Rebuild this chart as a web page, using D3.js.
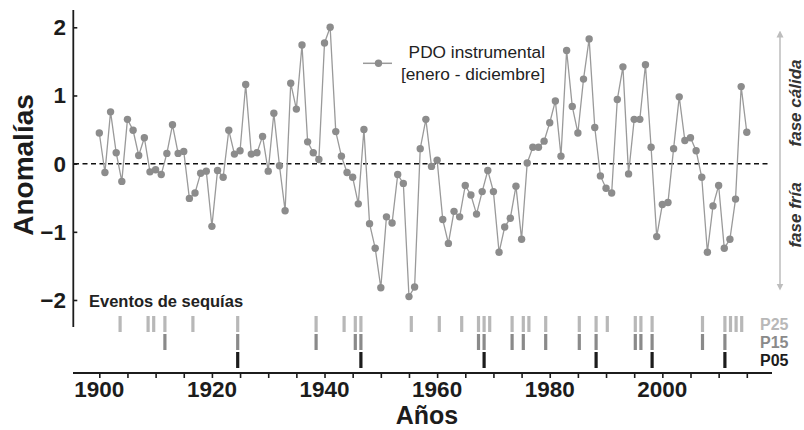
<!DOCTYPE html>
<html><head><meta charset="utf-8">
<script src="https://cdn.jsdelivr.net/npm/d3@7"></script>
<style>body{margin:0;background:#fff}svg{display:block;font-family:"Liberation Sans",Arial,sans-serif}</style>
</head><body><svg id="c" width="804" height="430"></svg>
<script>
const startYear = 1900;
const pdoValues = [
 0.45,-0.13,0.76,0.16,-0.26,0.65,0.49,0.12,0.38,-0.12,
 -0.09,-0.16,0.15,0.57,0.15,0.18,-0.51,-0.43,-0.14,-0.11,
 -0.92,-0.10,-0.20,0.49,0.14,0.19,1.16,0.14,0.16,0.40,
 -0.11,0.74,-0.03,-0.69,1.18,0.80,1.74,0.32,0.16,0.06,
 1.77,2.00,0.47,0.11,-0.13,-0.20,-0.59,0.50,-0.88,-1.24,
 -1.82,-0.78,-0.87,-0.16,-0.29,-1.95,-1.81,0.22,0.65,-0.04,
 0.05,-0.82,-1.17,-0.70,-0.78,-0.32,-0.46,-0.74,-0.41,-0.10,
 -0.41,-1.30,-0.93,-0.80,-0.33,-1.11,0.01,0.24,0.24,0.33,
 0.60,0.92,0.11,1.66,0.84,0.45,1.24,1.83,0.53,-0.18,
 -0.36,-0.43,0.94,1.42,-0.15,0.65,0.65,1.45,0.24,-1.07,
 -0.60,-0.57,0.22,0.98,0.34,0.38,0.19,-0.20,-1.30,-0.62,
 -0.32,-1.24,-1.11,-0.52,1.13,0.46
];
const years = pdoValues.map((v,i)=>startYear+i);
const droughtP25 = [1903,1908,1909,1911,1916,1924,1938,1943,1945,1946,1955,1960,1964,1967,1968,1969,1973,1975,1976,1979,1985,1988,1990,1995,1996,1998,2007,2011,2012,2013,2014];
const droughtP15 = [1911,1924,1938,1945,1946,1967,1968,1973,1975,1979,1985,1988,1995,1996,1998,2007,2011];
const droughtP05 = [1924,1946,1968,1988,1998,2011];
const rowNames = ["P25","P15","P05"];
const rowColors = ["#b8b8b8","#8a8a8a","#1c1c1c"];
const xTickLabels = [1900,1920,1940,1960,1980,2000];
const yTickValues = [-2,-1,0,1,2];

const svg = d3.select("#c");
const x = d3.scaleLinear().domain([1900,2015]).range([99.3,746.8]);
const xd = d3.scaleLinear().domain([1900,2015]).range([103.3,747.3]);
const y = d3.scaleLinear().domain([-2,2]).range([300,27.3]);
const ink = "#1c1c1c";

// zero dashed line
svg.append("line").attr("x1",74).attr("x2",768).attr("y1",y(0)).attr("y2",y(0))
  .attr("stroke","#111").attr("stroke-width",1.5).attr("stroke-dasharray","5,3.5");

// y axis
const yAxis = svg.append("g").attr("transform","translate(73.3,0)")
  .call(d3.axisRight(y).tickValues(yTickValues).tickSize(4).tickFormat(""));
yAxis.select(".domain").remove();
yAxis.selectAll(".tick line").attr("stroke",ink).attr("stroke-width",1.6);
svg.append("line").attr("x1",73.3).attr("x2",73.3).attr("y1",10).attr("y2",327)
  .attr("stroke",ink).attr("stroke-width",1.8);
svg.append("g").selectAll("text").data(yTickValues).join("text")
  .attr("x",66).attr("y",d=>y(d)+8).attr("text-anchor","end")
  .attr("font-size",22.5).attr("font-weight","bold").attr("fill",ink)
  .text(d=>d<0?"\u2212"+Math.abs(d):d);
svg.append("text").attr("transform","translate(33,165) rotate(-90)")
  .attr("text-anchor","middle").attr("font-size",28).attr("font-weight","bold").attr("fill",ink)
  .text("Anomalías");

// x axis
const xAxis = svg.append("g").attr("transform","translate(0,373)")
  .call(d3.axisBottom(x).tickValues(d3.range(1900,2016,5)).tickSize(5).tickFormat(""));
xAxis.select(".domain").remove();
xAxis.selectAll(".tick line").attr("stroke",ink).attr("stroke-width",1.6);
svg.append("line").attr("x1",73).attr("x2",772).attr("y1",373).attr("y2",373)
  .attr("stroke",ink).attr("stroke-width",1.8);
svg.append("g").selectAll("text").data(xTickLabels).join("text")
  .attr("x",d=>x(d)).attr("y",396.5).attr("text-anchor","middle")
  .attr("font-size",22.5).attr("font-weight","bold").attr("fill",ink).text(d=>d);
svg.append("text").attr("x",427).attr("y",424).attr("text-anchor","middle")
  .attr("font-size",25).attr("font-weight","bold").attr("fill",ink).text("Años");

// PDO series
const line = d3.line().x((d,i)=>x(years[i])).y(d=>y(d));
svg.append("path").attr("d",line(pdoValues)).attr("fill","none")
  .attr("stroke","#9a9a9a").attr("stroke-width",1.3);
svg.append("g").selectAll("circle").data(pdoValues).join("circle")
  .attr("cx",(d,i)=>x(years[i])).attr("cy",d=>y(d)).attr("r",3.7).attr("fill","#8c8c8c");

// legend
svg.append("line").attr("x1",363).attr("x2",392).attr("y1",63.3).attr("y2",63.3)
  .attr("stroke","#9a9a9a").attr("stroke-width",1.5);
svg.append("circle").attr("cx",378.5).attr("cy",63.3).attr("r",3.7).attr("fill","#8c8c8c");
svg.append("text").attr("x",545).attr("y",58.3).attr("text-anchor","end")
  .attr("font-size",17.3).attr("fill","#222").text("PDO instrumental");
svg.append("text").attr("x",545).attr("y",79.5).attr("text-anchor","end")
  .attr("font-size",17.3).attr("fill","#222").text("[enero - diciembre]");

// phase arrow
const defs = svg.append("defs");
defs.append("marker").attr("id","ah").attr("viewBox","0 0 10 10").attr("refX",5).attr("refY",5)
  .attr("markerWidth",7).attr("markerHeight",8).attr("orient","auto-start-reverse")
  .attr("markerUnits","userSpaceOnUse")
  .append("path").attr("d","M0,0 L10,5 L0,10 Z").attr("fill","#bdbdbd");
svg.append("line").attr("x1",780).attr("x2",780).attr("y1",34).attr("y2",287)
  .attr("stroke","#bdbdbd").attr("stroke-width",1.5)
  .attr("marker-start","url(#ah)").attr("marker-end","url(#ah)");
svg.append("text").attr("transform","translate(801,103) rotate(-90)").attr("text-anchor","middle")
  .attr("font-size",17).attr("font-style","italic").attr("font-weight","bold").attr("fill","#333")
  .text("fase cálida");
svg.append("text").attr("transform","translate(801,215) rotate(-90)").attr("text-anchor","middle")
  .attr("font-size",17).attr("font-style","italic").attr("font-weight","bold").attr("fill","#333")
  .text("fase fría");

// drought events
svg.append("text").attr("x",89).attr("y",306.5).attr("font-size",16.5).attr("font-weight","bold")
  .attr("fill","#222").text("Eventos de sequías");
const rowY = d3.scaleBand().domain(rowNames).range([316,368]).paddingInner(0.111);
const rows = [droughtP25, droughtP15, droughtP05];
rowNames.forEach((name,k)=>{
  svg.append("g").selectAll("rect").data(rows[k]).join("rect")
    .attr("x",d=>xd(d)-1.6).attr("width",3.2)
    .attr("y",rowY(name)).attr("height",rowY.bandwidth())
    .attr("fill",rowColors[k]);
  svg.append("text").attr("x",760).attr("y",rowY(name)+rowY.bandwidth()/2+6)
    .attr("font-size",16).attr("font-weight","bold").attr("fill",rowColors[k]).text(name);
});
</script></body></html>
